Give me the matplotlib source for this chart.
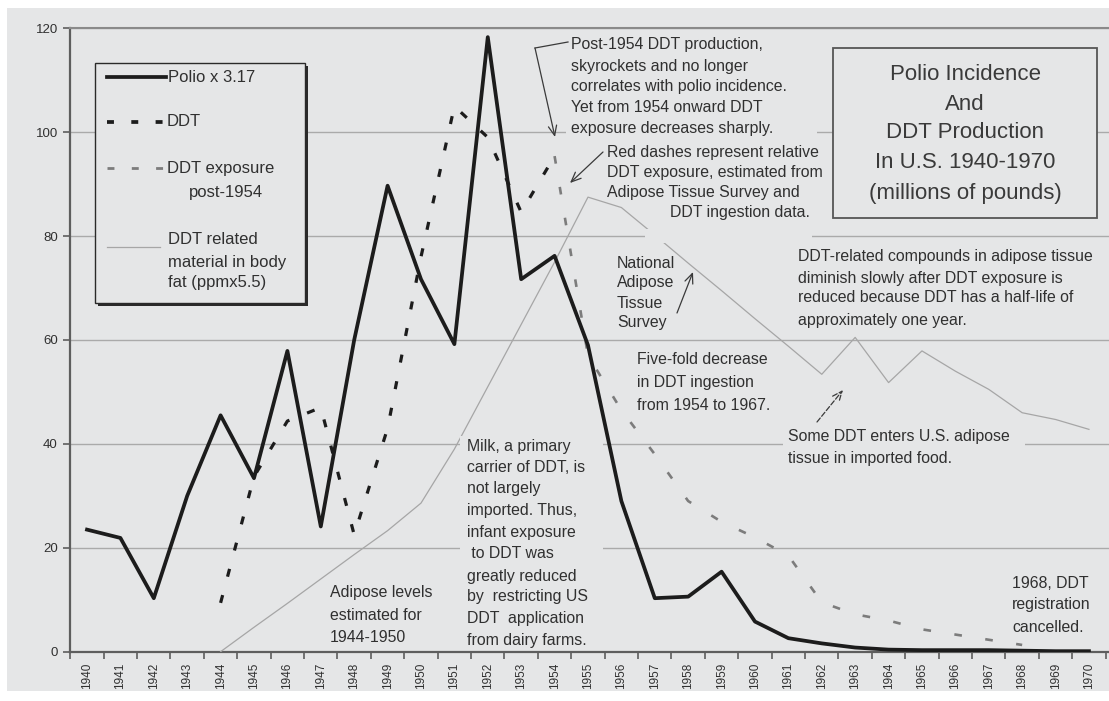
import numpy as np
import matplotlib
matplotlib.use("Agg")
import matplotlib.pyplot as plt
import matplotlib.transforms as mtransforms
from matplotlib.lines import Line2D
from matplotlib.patches import Rectangle

# ---------------- data ----------------
years = [str(y) for y in range(1940, 1971)]
nan = np.nan
polio = [23.5, 21.9, 10.3, 30.0, 45.5, 33.4, 57.9, 24.1, 60.0, 89.7, 71.7,
         59.2, 118.3, 71.7, 76.2, 59.0, 29.0, 10.3, 10.6, 15.4, 5.8, 2.6,
         1.6, 0.8, 0.4, 0.3, 0.3, 0.3, 0.2, 0.1, 0.1]
ddt = [nan, nan, nan, nan, 9.4, 33.7, 44.4, 47.0, 22.5, 43.0, 76.0, 105.0,
       99.0, 84.6, 95.4] + [nan] * 16
ddt_exposure = [nan] * 14 + [95.4, 57.0, 46.5, 38.0, 29.0, 25.0, 22.0, 18.5,
                             9.5, 7.2, 6.0, 4.3, 3.3, 2.3, 1.3, nan, nan]
body_fat = [nan, nan, nan, nan, 0.0, 4.7, 9.3, 14.0, 18.7, 23.3, 28.6, 39.0,
            51.0, 63.0, 75.0, 87.5, 85.5, 80.2, 74.8, 69.5, 64.1, 58.8, 53.4,
            60.5, 51.8, 57.9, 54.0, 50.5, 46.0, 44.7, 42.8]
yticks = [0, 20, 40, 60, 80, 100, 120]

legend_labels = ["Polio x 3.17", "DDT", "DDT exposure", "post-1954",
                 "DDT related", "material in body", "fat (ppmx5.5)"]
title_lines = ["Polio Incidence", "And", "DDT Production",
               "In U.S. 1940-1970", "(millions of pounds)"]

# ---------------- style ----------------
plt.rcParams["font.family"] = ["Liberation Sans", "DejaVu Sans"]
plt.rcParams["lines.scale_dashes"] = False
BG = "#e5e6e7"
TXT = "#303030"
W, H = 1109, 701

fig = plt.figure(figsize=(W / 100, H / 100), dpi=100, facecolor="white")
PX = mtransforms.Affine2D().scale(1 / W, -1 / H).translate(0, 1) + fig.transFigure

fig.add_artist(Rectangle((7, 8), W - 7, 683, transform=PX, fc=BG, ec="none", zorder=0))

ax_l, ax_r, ax_t, ax_b = 70.3, 1109, 28.3, 651.7
ax = fig.add_axes([ax_l / W, 1 - ax_b / H, (ax_r - ax_l) / W, (ax_b - ax_t) / H])
ax.set_facecolor(BG)
x = np.arange(len(years))
ax.set_xlim(-0.5, 30.6)
ax.set_ylim(0, 120)

for s in ["left", "bottom"]:
    ax.spines[s].set_color("#5e5e5e")
    ax.spines[s].set_linewidth(1.6)
ax.spines["top"].set_color("#8a8a8a")
ax.spines["top"].set_linewidth(1.5)
ax.spines["right"].set_visible(False)

ax.set_yticks(yticks)
ax.set_yticklabels([str(v) for v in yticks])
ax.tick_params(axis="y", length=5, width=1.2, color="#5e5e5e", labelsize=9.5,
               labelcolor=TXT, pad=4)
ax.set_xticks(x)
ax.set_xticklabels(years, rotation=90)
ax.tick_params(axis="x", which="major", length=0, labelsize=8.5, labelcolor=TXT, pad=8)
ax.set_xticks(np.arange(-0.5, 30.6, 1.0), minor=True)
ax.tick_params(axis="x", which="minor", length=5, width=1.2, color="#5e5e5e")
ax.yaxis.grid(True, color="#aaaaaa", lw=1.0)
ax.set_axisbelow(True)

# ---------------- series ----------------
ax.plot(x, body_fat, color="#a6a6a6", lw=0.9, zorder=3)
ax.plot(x, ddt_exposure, color="#7c7c7c", lw=1.9, dashes=(5.5, 17), zorder=4)
ax.plot(x, ddt, color="#1c1c1c", lw=2.3, dashes=(5.8, 13.7), zorder=5)
ax.plot(x, polio, color="#1c1c1c", lw=2.7, zorder=6)

# ---------------- cover boxes for annotation texts ----------------
for (x0, y0, w, h) in [(566, 35, 251, 103), (645, 229, 167, 14),
                       (460, 436, 143, 214), (783, 428, 242, 40)]:
    fig.add_artist(Rectangle((x0, y0), w, h, transform=PX, fc=BG, ec="none", zorder=1.2))


def block(xp, ys, lines, **kw):
    for yy, ln in zip(ys, lines):
        fig.text(xp, yy, ln, transform=PX, va="center", color=TXT, zorder=8, **kw)


FS = 11.4
block(571, [44, 66, 87, 108, 128],
      ["Post-1954 DDT production,", "skyrockets and no longer",
       "correlates with polio incidence.", "Yet from 1954 onward DDT",
       "exposure decreases sharply."], fontsize=FS)
block(607, [152, 172, 193], ["Red dashes represent relative",
                              "DDT exposure, estimated from",
                              "Adipose Tissue Survey and"], fontsize=FS)
block(670, [213], ["DDT ingestion data."], fontsize=FS)
block(617, [263, 283, 303, 323], ["National", "Adipose", "Tissue", "Survey"], fontsize=FS)
block(798, [256, 278, 298, 321],
      ["DDT-related compounds in adipose tissue",
       "diminish slowly after DDT exposure is",
       "reduced because DDT has a half-life of",
       "approximately one year."], fontsize=FS)
block(637, [360, 383, 405], ["Five-fold decrease", "in DDT ingestion",
                             "from 1954 to 1967."], fontsize=FS)
block(788, [437, 458], ["Some DDT enters U.S. adipose",
                        "tissue in imported food."], fontsize=FS)
block(467, [447, 467, 488, 510, 532, 553, 577, 597, 618, 640],
      ["Milk, a primary", "carrier of DDT, is", "not largely", "imported. Thus,",
       "infant exposure", " to DDT was", "greatly reduced", "by  restricting US",
       "DDT  application", "from dairy farms."], fontsize=FS)
block(330, [593, 615, 637], ["Adipose levels", "estimated for", "1944-1950"], fontsize=FS)
block(1012, [583, 605, 627], ["1968, DDT", "registration", "cancelled."], fontsize=FS)

# arrows
AC = "#3a3a3a"
fig.add_artist(Line2D([568, 535], [42, 48], transform=PX, color=AC, lw=0.9, zorder=8))
arrow = dict(arrowstyle="->,head_length=0.7,head_width=0.3", color=AC, lw=0.9,
             shrinkA=0, shrinkB=0)
for (xy, xyt, ls) in [((555, 137), (535, 48), "-"), ((570, 183), (603, 152), "-"),
                      ((693, 272), (677, 313), "-"), ((843, 390), (817, 422), "--")]:
    ap = dict(arrow)
    ap["linestyle"] = ls
    ax.annotate("", xy=xy, xytext=xyt, xycoords=PX, textcoords=PX,
                arrowprops=ap, zorder=8)

# ---------------- legend (drawn) ----------------
fig.add_artist(Rectangle((98, 66), 210, 240, transform=PX, fc="#2a2a2a", ec="none", zorder=7))
fig.add_artist(Rectangle((95, 63), 210, 240, transform=PX, fc=BG, ec="#2a2a2a", lw=1.0, zorder=7.1))
fig.add_artist(Line2D([107, 166], [77, 77], transform=PX, color="#1c1c1c", lw=2.7, zorder=7.2))
fig.add_artist(Line2D([107, 166], [122, 122], transform=PX, color="#1c1c1c", lw=2.7,
                      dashes=(5, 12.5), zorder=7.2))
fig.add_artist(Line2D([107, 166], [168, 168], transform=PX, color="#7c7c7c", lw=2.0,
                      dashes=(5, 12.5), zorder=7.2))
fig.add_artist(Line2D([107, 160], [247, 247], transform=PX, color="#a6a6a6", lw=0.9, zorder=7.2))
for (xp, yp, lab, ha) in [(168, 77, legend_labels[0], "left"), (167, 122, legend_labels[1], "left"),
                          (167, 168, legend_labels[2], "left"), (226, 192, legend_labels[3], "center"),
                          (168, 240, legend_labels[4], "left"), (168, 262, legend_labels[5], "left"),
                          (168, 283, legend_labels[6], "left")]:
    fig.text(xp, yp, lab, transform=PX, ha=ha, va="center", fontsize=12, color=TXT, zorder=7.3)

# ---------------- title box ----------------
fig.add_artist(Rectangle((833, 48), 264, 170, transform=PX, fc=BG, ec="#555555", lw=1.3, zorder=7))
for yy, ln in zip([75, 105, 133, 163, 193], title_lines):
    fig.text(965, yy, ln, transform=PX, ha="center", va="center", fontsize=16,
             color="#3a3a3a", zorder=7.3)

fig.savefig("out.png", dpi=100, facecolor="white")
